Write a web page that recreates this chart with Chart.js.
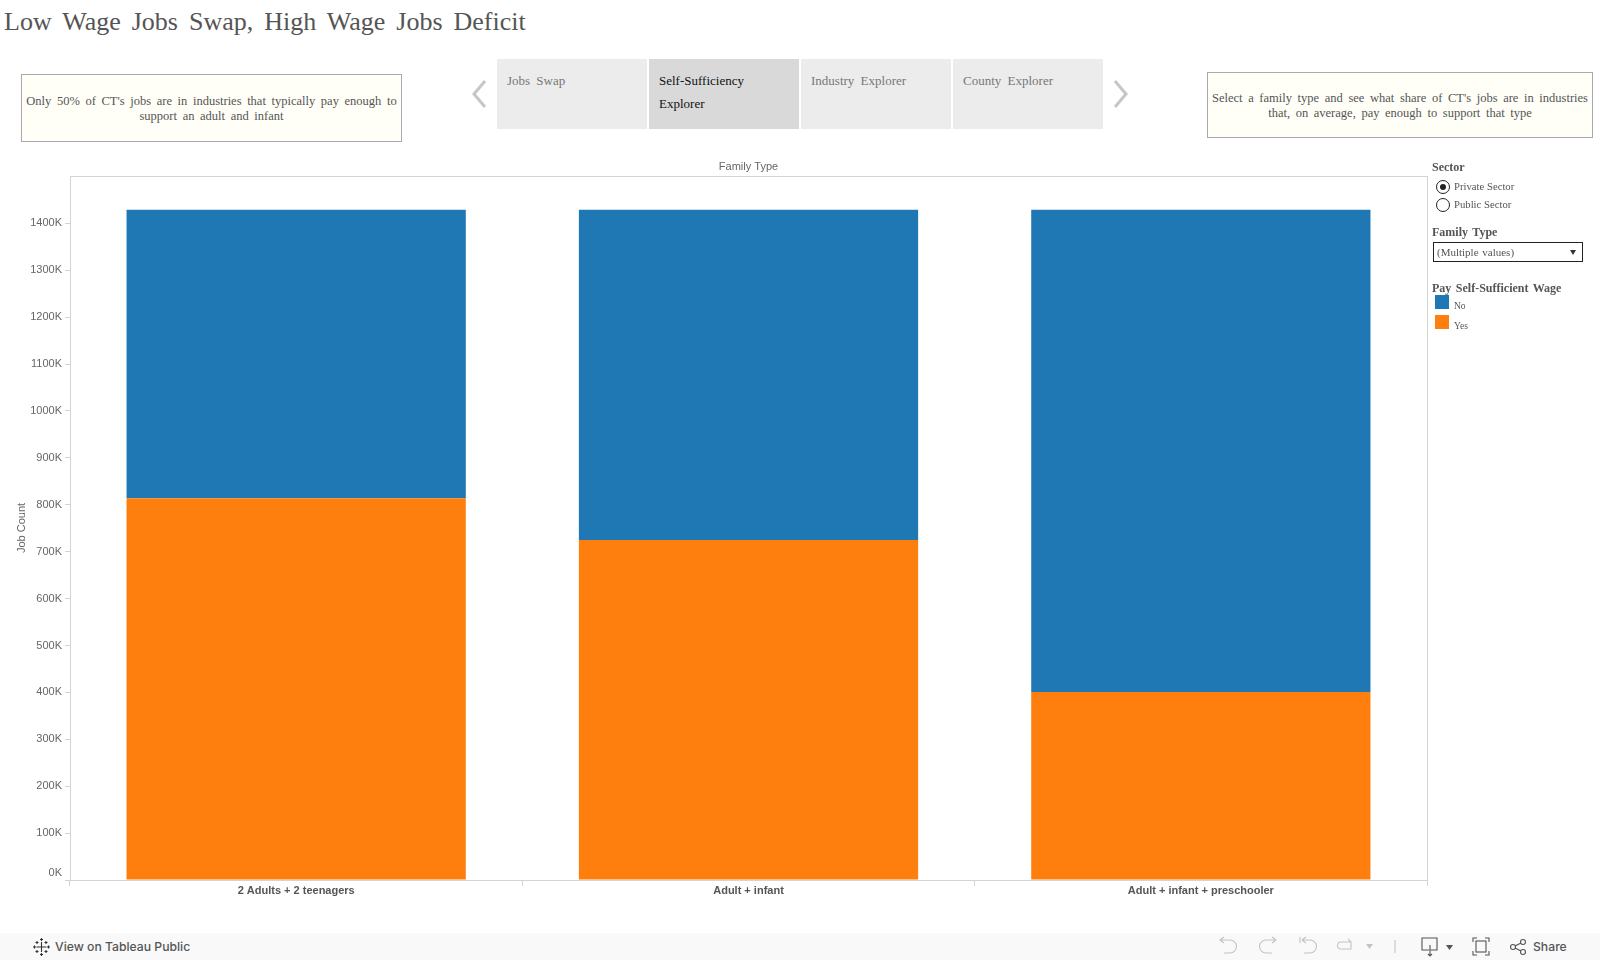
<!DOCTYPE html>
<html>
<head>
<meta charset="utf-8">
<script src="https://cdn.jsdelivr.net/npm/chart.js@4"></script>
<style>
html, body { margin: 0; padding: 0; background: #fff; }
body { width: 1600px; height: 960px; position: relative; overflow: hidden; font-family: "Liberation Serif", serif; color: #555; }
canvas { position: absolute; left: 0; top: 0; }
.abs { position: absolute; white-space: nowrap; }
#title { left: 4px; top: 4px; font-size: 26px; line-height: 36px; word-spacing: 4.5px; color: #555; }
.note { position: absolute; box-sizing: border-box; border: 1px solid #aaa; background: #fffff8; font-size: 12.5px; line-height: 15px; text-align: center; word-spacing: 2.5px; color: #555; }
.tab { position: absolute; top: 59px; width: 150px; height: 70px; box-sizing: border-box; padding: 10px 10px; background: #ececec; font-size: 13px; line-height: 23px; word-spacing: 3px; color: #777; }
.tab.on { background: #d9d9d9; color: #111; }
.head { font-size: 12px; font-weight: bold; word-spacing: 1.5px; color: #555; line-height: 14px; }
.small { font-size: 10.7px; line-height: 12px; color: #555; }
.radio { position: absolute; left: 1436px; width: 12px; height: 12px; border: 1px solid #222; border-radius: 50%; background: #fff; }
.radio.on::after { content: ""; position: absolute; left: 3px; top: 3px; width: 6px; height: 6px; border-radius: 50%; background: #222; }
#select { left: 1433px; top: 242px; width: 150px; height: 20px; box-sizing: border-box; border: 1px solid #222; padding-left: 3px; line-height: 18px; font-size: 11px; word-spacing: 1px; }
.swatch { position: absolute; left: 1435px; width: 14px; height: 14px; }
#bar { position: absolute; left: 0; top: 933px; width: 1600px; height: 27px; background: #f9f9f9; }
#bar span { position: absolute; font-family: "Inter", sans-serif; font-size: 12.2px; font-weight: 500; line-height: 27px; color: #555; }
#bar svg { position: absolute; left: 0; top: 0; }
</style>
</head>
<body>
<div id="title" class="abs">Low Wage Jobs Swap, High Wage Jobs Deficit</div>

<div class="note" style="left:21px;top:74px;width:381px;height:68px;padding-top:19px;">Only 50% of CT's jobs are in industries that typically pay enough to<br>support an adult and infant</div>
<div class="note" style="left:1207px;top:72px;width:386px;height:66px;padding-top:18px;">Select a family type and see what share of CT's jobs are in industries<br>that, on average, pay enough to support that type</div>

<div class="tab" style="left:497px;">Jobs Swap</div>
<div class="tab on" style="left:649px;">Self-Sufficiency<br>Explorer</div>
<div class="tab" style="left:801px;">Industry Explorer</div>
<div class="tab" style="left:953px;">County Explorer</div>
<svg class="abs" style="left:470px;top:78px;" width="20" height="32"><polyline points="15,3 4,16 15,29" fill="none" stroke="#c6c6c6" stroke-width="3"/></svg>
<svg class="abs" style="left:1111px;top:78px;" width="20" height="32"><polyline points="4,3 15,16 4,29" fill="none" stroke="#c6c6c6" stroke-width="3"/></svg>

<canvas id="jobsChart" width="1600" height="960"></canvas>

<div class="abs head" style="left:1432px;top:160px;">Sector</div>
<div class="radio on" style="top:180px;"></div>
<div class="abs small" style="left:1454px;top:180px;">Private Sector</div>
<div class="radio" style="top:198px;"></div>
<div class="abs small" style="left:1454px;top:198px;">Public Sector</div>
<div class="abs head" style="left:1432px;top:225px;">Family Type</div>
<div id="select" class="abs">(Multiple values)</div>
<svg class="abs" style="left:1570px;top:250px;" width="6" height="5"><polygon points="0,0 6,0 3,5" fill="#333"/></svg>
<div class="abs head" style="left:1432px;top:281px;">Pay Self-Sufficient Wage</div>
<div id="legend"></div>

<div id="bar">
  <svg width="1600" height="27" fill="none" stroke-width="1.1">
    <g stroke="#333">
      <path d="M41.500 9v10M36.500 14h10M41.500 5v3M40 6.500h3M41.500 20v3M40 21.500h3M34.500 12.500v3M33 14h3M48.500 12.500v3M47 14h3M37 8v3M35.500 9.500h3M46 8v3M44.500 9.500h3M37 17v3M35.500 18.500h3M46 17v3M44.500 18.500h3"/>
    </g>
    <g stroke="#c4c4c4">
      <path d="M1220 7h10a5 5 0 0 1 0 13h-6M1220 7l4-3M1220 7l4 3"/>
      <path d="M1276 7h-10a5 5 0 0 0 0 13h6M1276 7l-4-3M1276 7l-4 3"/>
      <path d="M1300 4v6M1302 7h8a5 5 0 0 1 0 13h-6M1302 7l4-3M1302 7l4 3"/>
      <path d="M1341 9h10v7h-10a3.500 3.500 0 0 1 0-7M1351 9l-3-3"/>
      <path d="M1395 7v13"/>
    </g>
    <polygon points="1366,11 1373,11 1369.500,16" fill="#c4c4c4"/>
    <g stroke="#555">
      <path d="M1429 17h-7v-12h15v12h-7M1430 12v11M1428 21l2 2 2-2"/>
      <path d="M1473 9v-4h4M1485 5h4v4M1489 18v4h-4M1477 22h-4v-4"/>
      <rect x="1476" y="8" width="10" height="11"/>
      <circle cx="1513" cy="14" r="2.500"/><circle cx="1523" cy="9" r="2.500"/><circle cx="1523" cy="19" r="2.500"/>
      <path d="M1515 13l6-3M1515 15l6 3"/>
    </g>
    <polygon points="1446,12 1453,12 1449.500,17" fill="#555"/>
  </svg>
  <span style="left:55px;">View on Tableau Public</span>
  <span style="left:1533px;">Share</span>
</div>

<script>
// In thousands of jobs
const categories = ['2 Adults + 2 teenagers', 'Adult + infant', 'Adult + infant + preschooler'];
const yesJobs = [814, 725, 401];
const noJobs = [615, 704, 1028];
const seriesNames = ['No', 'Yes'];
const seriesColors = ['#1f77b4', '#ff7f0e'];
const yTicks = [0, 100, 200, 300, 400, 500, 600, 700, 800, 900, 1000, 1100, 1200, 1300, 1400];

// Legend is a plain html block, same look as the Tableau one
const legend = document.getElementById('legend');
seriesNames.forEach((name, i) => {
    const top = 295 + i * 20;
    legend.innerHTML += '<div class="swatch" style="top:' + top + 'px;background:' + seriesColors[i] + ';"></div>'
        + '<div class="abs small" style="left:1454px;top:' + (top + 5) + 'px;font-size:9.5px;">' + name + '</div>';
});

// Thin frame round the plot, Chart.js has no option for the top and right edges
const plotFrame = {
    id: 'plotFrame',
    beforeDatasetsDraw(chart) {
        const a = chart.chartArea;
        const c = chart.ctx;
        c.save();
        c.strokeStyle = '#d4d4d4';
        c.lineWidth = 1;
        c.strokeRect(Math.round(a.left) + 0.5, Math.round(a.top) + 0.5, Math.round(a.right - a.left), Math.round(a.bottom - a.top));
        c.restore();
    }
};

const ctx = document.getElementById('jobsChart').getContext('2d');
new Chart(ctx, {
    type: 'bar',
    data: {
        labels: categories,
        datasets: [
            { label: seriesNames[1], data: yesJobs, backgroundColor: seriesColors[1], borderWidth: 0 },
            { label: seriesNames[0], data: noJobs, backgroundColor: seriesColors[0], borderWidth: 0 }
        ]
    },
    plugins: [plotFrame],
    options: {
        responsive: false,
        animation: false,
        barPercentage: 0.75,
        categoryPercentage: 1,
        layout: { padding: { left: 0, top: 0, right: 173, bottom: 0 } },
        plugins: { legend: { display: false }, tooltip: { enabled: false } },
        scales: {
            x: {
                stacked: true,
                grid: { offset: true, drawOnChartArea: false, color: '#d4d4d4', tickLength: 6 },
                border: { color: '#d4d4d4' },
                ticks: { color: '#555', padding: -2, maxRotation: 0, font: { family: 'Liberation Sans', size: 11, weight: 'bold' } },
                afterFit(scale) { scale.height = 80; }
            },
            top: {
                type: 'category',
                position: 'top',
                labels: categories,
                grid: { display: false },
                border: { display: false },
                ticks: { display: false },
                title: { display: true, text: 'Family Type', color: '#666', padding: { top: 160, bottom: 0 }, font: { family: 'Liberation Sans', size: 11 } },
                afterFit(scale) { scale.height = 176; }
            },
            y: {
                stacked: true,
                min: 0,
                max: 1501,
                afterBuildTicks(scale) { scale.ticks = yTicks.map(v => ({ value: v })); },
                grid: { drawOnChartArea: false, color: '#d4d4d4', tickLength: 5 },
                border: { color: '#d4d4d4' },
                ticks: {
                    color: '#666',
                    padding: 3,
                    font: { family: 'Liberation Sans', size: 11, lineHeight: 1.2 },
                    // the 0K label sits above its tick, a blank second line lifts it
                    callback: v => v === 0 ? ['0K', ''] : v + 'K'
                },
                title: { display: true, text: 'Job Count', color: '#666', padding: { top: 15, bottom: 0 }, font: { family: 'Liberation Sans', size: 11 } },
                afterFit(scale) { scale.width = 70; }
            }
        }
    }
});
</script>
</body>
</html>
